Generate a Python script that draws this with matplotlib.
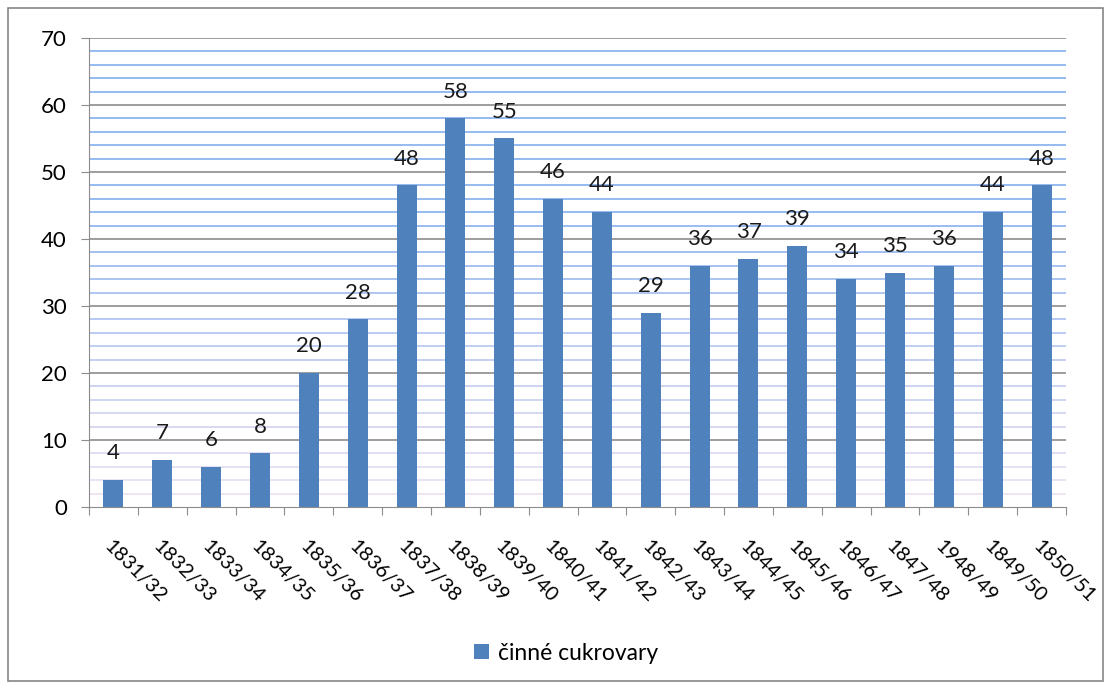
import matplotlib
matplotlib.use("Agg")
import matplotlib.pyplot as plt
import numpy as np
from matplotlib.patches import Rectangle
from matplotlib.colors import to_rgb

categories = ["1831/32", "1832/33", "1833/34", "1834/35", "1835/36", "1836/37", "1837/38",
              "1838/39", "1839/40", "1840/41", "1841/42", "1842/43", "1843/44", "1844/45",
              "1845/46", "1846/47", "1847/48", "1948/49", "1849/50", "1850/51"]
values = [4, 7, 6, 8, 20, 28, 48, 58, 55, 46, 44, 29, 36, 37, 39, 34, 35, 36, 44, 48]
series_name = "činné cukrovary"

plt.rcParams['font.family'] = ['Lato', 'DejaVu Sans']

W, H = 1111, 689
fig = plt.figure(figsize=(W / 100, H / 100), dpi=100)
ax = fig.add_axes([89 / W, 1 - 507 / H, (1066 - 89) / W, (507 - 38) / H])

# outer border
fig.patches.append(Rectangle((8 / W, 1 - 681 / H), (1103 - 8) / W, (681 - 8) / H,
                             transform=fig.transFigure, fill=False, edgecolor='#868686', lw=1.2))

x = np.arange(len(categories))
ax.set_xlim(-0.5, len(categories) - 0.5)
ax.set_ylim(0, 70)

# minor gridlines with a gradient from blue (top) to pink (bottom)
top_c = np.array(to_rgb('#8DB4F0'))
bot_c = np.array(to_rgb('#F2E4F2'))
for v in np.arange(2, 70, 2):
    if v % 10 == 0:
        continue
    t = v / 70
    c = bot_c + (top_c - bot_c) * min(1, t * 1.6)
    ax.axhline(v, color=c, lw=1.3, zorder=0)
for v in np.arange(10, 71, 10):
    ax.axhline(v, color='#8C8C8C', lw=1.2, zorder=0.5)

bars = ax.bar(x, values, width=0.41, color='#4F81BD', zorder=2, label=series_name)
for xi, v in zip(x, values):
    ax.text(xi, v + 2.5, str(v), ha='center', va='bottom', fontsize=16, color='#1a1a1a')

ax.set_yticks(np.arange(0, 71, 10))
ax.set_yticklabels([str(v) for v in range(0, 71, 10)], fontsize=16)
ax.set_xticks(np.arange(-0.5, len(categories), 1), minor=False)
ax.set_xticklabels([])
ax.set_xticks(x, minor=True)
ax.set_xticklabels(categories, minor=True, rotation=-45, ha='left', va='top',
                   fontsize=14.5, rotation_mode='anchor')
ax.tick_params(axis='x', which='minor', length=0, pad=22)
ax.tick_params(axis='x', which='major', length=6, color='#8C8C8C', direction='out')
ax.tick_params(axis='y', length=6, color='#8C8C8C', pad=10)

for s in ['top', 'right']:
    ax.spines[s].set_visible(False)
ax.spines['left'].set_color('#8C8C8C')
ax.spines['bottom'].set_color('#8C8C8C')

fig.legend(handles=[bars], labels=[series_name], loc='center', bbox_to_anchor=(566 / W, 1 - 653 / H),
           frameon=False, fontsize=16.5, handlelength=0.65, handleheight=0.65, handletextpad=0.4)

fig.savefig("out.png", dpi=100)
